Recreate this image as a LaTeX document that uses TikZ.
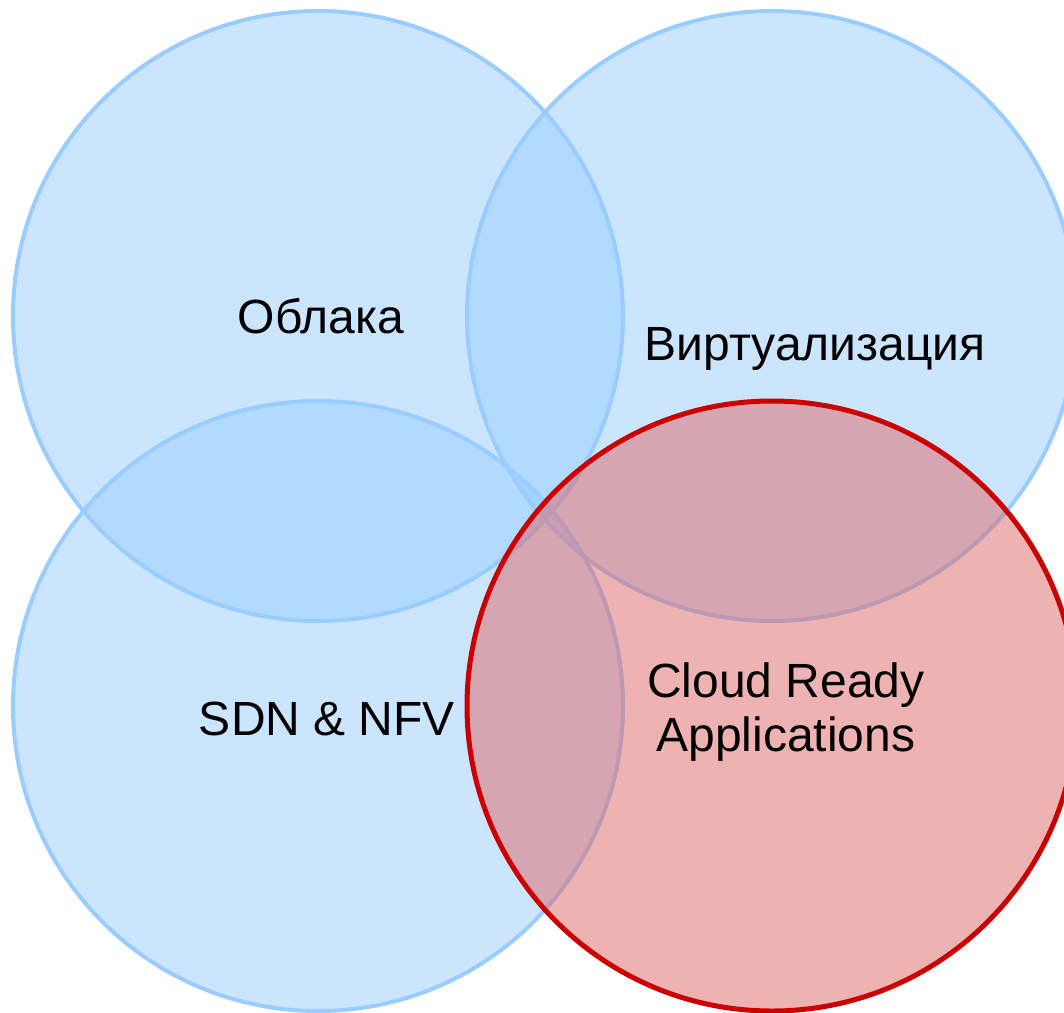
\documentclass[tikz,border=0pt]{standalone}
\usepackage{fontspec}
\setmainfont{Liberation Sans}
\usepackage{xcolor}
\usetikzlibrary{positioning}

\definecolor{setblue}{HTML}{99CCFF}
\definecolor{setred}{HTML}{E06666}
\definecolor{edgered}{HTML}{CC0000}

\begin{document}
\begin{tikzpicture}[
    x=1pt, y=-1pt,
    set/.style={circle, draw, inner sep=0pt, minimum size=610pt},
    blueset/.style={set, draw=setblue, line width=4pt, fill=setblue, fill opacity=0.5},
    redset/.style={set, draw=edgered, line width=5pt, fill=setred, fill opacity=0.5},
    lbl/.style={anchor=base, align=center, font=\fontsize{48}{54}\selectfont, text=black}
]
    \useasboundingbox (0,0) rectangle (1064,1012);

    % Circles
    \node[blueset] (cloud) at (318,316) {};
    \node[blueset] (virt) at (772,316) {};
    \node[blueset] (sdn) at (318,706) {};
    \node[redset] (apps) at (772,706) {};

    % Labels
    \node[lbl] (cloudtxt) at (321,333) {Облака};
    \node[lbl] (virttxt) at (815,360) {Виртуализация};
    \node[lbl] (sdntxt) at (327,735) {SDN \& NFV};
    \node[lbl, anchor=north] (appstxt) at (786,659) {Cloud Ready\\Applications};
\end{tikzpicture}
\end{document}
